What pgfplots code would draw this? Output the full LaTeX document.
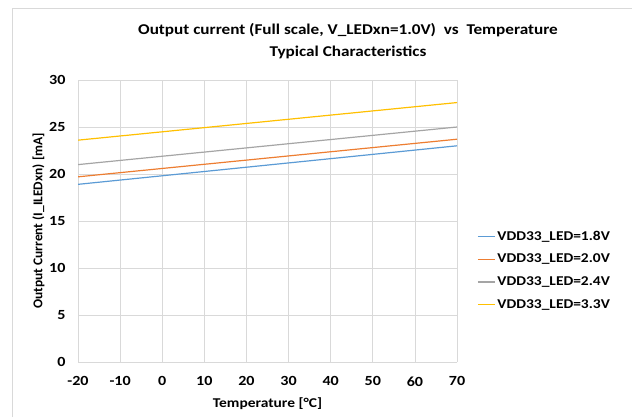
\documentclass[border=0pt]{standalone}
\usepackage{fontspec}
\setmainfont{Carlito}[FakeStretch=1.15]
\newfontfamily\ylabfont{Carlito}
\usepackage{pgfplots}
\pgfplotsset{compat=1.18}
\definecolor{xblue}{HTML}{5B9BD5}
\definecolor{xorange}{HTML}{ED7D31}
\definecolor{xgray}{HTML}{A5A5A5}
\definecolor{xgold}{HTML}{FFC000}
\definecolor{gridc}{HTML}{D9D9D9}
\begin{document}
\begin{tikzpicture}[x=1bp,y=1bp]
\path[use as bounding box,fill=white] (0,0) rectangle (632,417);
\draw[gridc] (12,0) -- (12,409) -- (632,409);
\node[font=\bfseries\fontsize{15}{22}\selectfont,align=center] at (348,376) {Output current (Full scale, V\_LEDxn=1.0V)\ \ vs\ \ Temperature\\Typical Characteristics};
\begin{axis}[
  at={(78bp,55bp)}, anchor=south west,
  scale only axis, width=379bp, height=282bp,
  xmin=-20, xmax=70, ymin=0, ymax=30,
  xtick={-20,-10,...,70}, ytick={0,5,...,30},
  grid=major, major grid style={gridc, line width=0.6pt},
  axis line style={draw=none},
  tick style={draw=none},
  /pgf/number format/assume math mode=true,
  ticklabel style={font=\bfseries\fontsize{14}{16}\selectfont},
  xticklabel style={yshift=-11bp},
  yticklabel style={xshift=-9bp},
  xlabel={Temperature [°C]},
  ylabel={Output Current (I\_ILEDxn) [mA]},
  xlabel style={font=\bfseries\fontsize{13.5}{16}\selectfont, yshift=-5bp},
  ylabel style={font=\ylabfont\bfseries\fontsize{13.5}{16}\selectfont, yshift=-2bp},
  legend style={at={(1.045,0.325)}, anchor=west, draw=none, fill=none,
    font=\bfseries\fontsize{13.5}{16}\selectfont, row sep=8.5bp},
  legend cell align=left,
]
\addplot[xblue, line width=1.2pt, mark=none] coordinates {(-20,18.9) (70,23.0)};
\addplot[xorange, line width=1.2pt, mark=none] coordinates {(-20,19.7) (70,23.7)};
\addplot[xgray, line width=1.2pt, mark=none] coordinates {(-20,21.0) (70,25.0)};
\addplot[xgold, line width=1.2pt, mark=none] coordinates {(-20,23.6) (70,27.6)};
\legend{VDD33\_LED=1.8V, VDD33\_LED=2.0V, VDD33\_LED=2.4V, VDD33\_LED=3.3V}
\end{axis}
\end{tikzpicture}
\end{document}
